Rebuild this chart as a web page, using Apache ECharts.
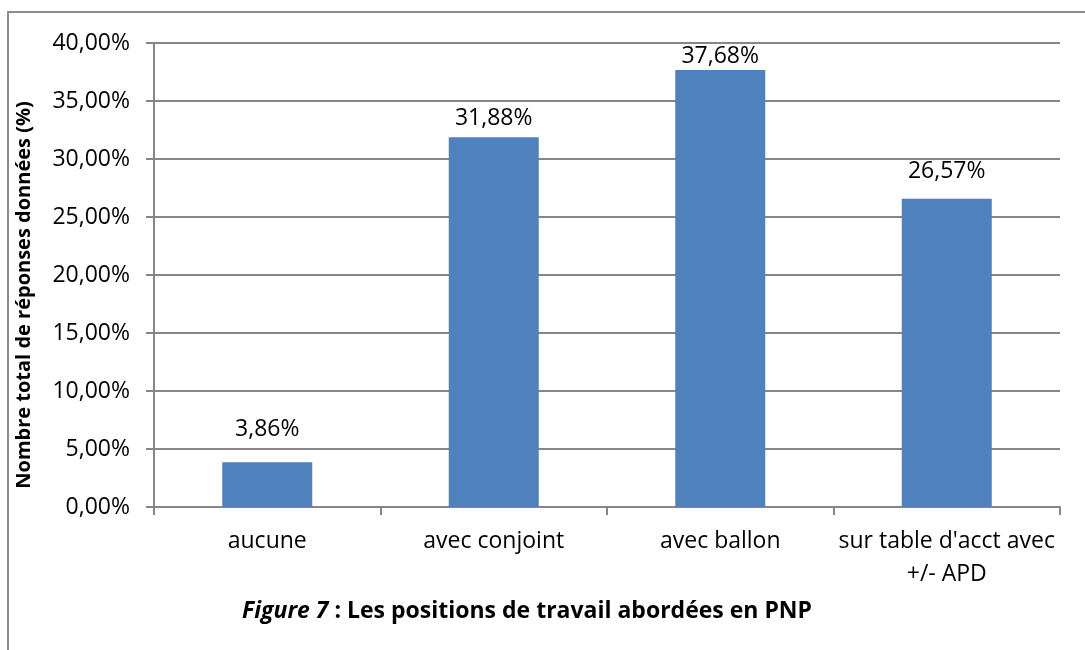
<!DOCTYPE html>
<html>
<head>
<meta charset="utf-8">
<script src="https://cdn.jsdelivr.net/npm/echarts@6/dist/echarts.min.js"></script>
<style>
  html, body { margin: 0; padding: 0; background: #fff; }
  #chart { width: 1085px; height: 650px; }
</style>
</head>
<body>
<div id="chart"></div>
<script>
  // catégories et valeurs (%)
  var categories = ['aucune', 'avec conjoint', 'avec ballon', "sur table d'acct avec\n+/- APD"]
  var values = [3.86, 31.88, 37.68, 26.57]
  var yTicks = [0, 5, 10, 15, 20, 25, 30, 35, 40]

  // écart des étiquettes au-dessus des barres (px), placées à la main dans l'original
  var labelGap = [21, 7, 2, 16]

  var font = 'Open Sans'
  function pct(v) {
    return Number(v).toFixed(2).replace('.', ',') + '%'
  }

  var myChart = echarts.init(document.getElementById('chart'))
  var option = {
    animation: false,
    textStyle: { fontFamily: font },
    grid: {
      left: 154,
      top: 43,
      right: 25,
      bottom: 143
    },
    graphic: [
      {
        type: 'rect',
        shape: { x: 8, y: 12, width: 1100, height: 700 },
        style: { fill: 'none', stroke: '#8c8c8c', lineWidth: 2 },
        silent: true
      },
      {
        type: 'text',
        x: 527,
        y: 611,
        style: {
          text: '{i|Figure 7}{b| : Les positions de travail abordées en PNP}',
          align: 'center',
          verticalAlign: 'middle',
          rich: {
            i: { fontFamily: font, fontSize: 23, fontWeight: 'bold', fontStyle: 'italic', fill: '#000' },
            b: { fontFamily: font, fontSize: 23, fontWeight: 'bold', fill: '#000' }
          }
        }
      }
    ],
    xAxis: {
      type: 'category',
      data: categories,
      axisLine: { lineStyle: { color: '#868686', width: 2 } },
      axisTick: { show: true, alignWithLabel: false, length: 8, lineStyle: { color: '#868686', width: 2 } },
      axisLabel: {
        color: '#000',
        fontSize: 23,
        fontFamily: font,
        margin: 18,
        lineHeight: 33,
        interval: 0
      }
    },
    yAxis: {
      type: 'value',
      min: yTicks[0],
      max: yTicks[yTicks.length - 1],
      interval: 5,
      name: 'Nombre total de réponses données (%)',
      nameLocation: 'middle',
      nameGap: 120,
      nameRotate: 90,
      nameTextStyle: {
        color: '#000',
        fontSize: 20,
        fontWeight: 'bold',
        fontFamily: font,
        padding: [0, 40, 0, 0]
      },
      axisLine: { show: true, lineStyle: { color: '#868686', width: 2 } },
      axisTick: { show: true, length: 8, lineStyle: { color: '#868686', width: 2 } },
      splitLine: { lineStyle: { color: '#868686', width: 2 } },
      axisLabel: {
        color: '#000',
        fontSize: 23,
        fontFamily: font,
        margin: 24,
        formatter: pct
      }
    },
    series: [
      {
        type: 'bar',
        data: values.map(function (v, i) {
          return { value: v, label: { distance: labelGap[i] } }
        }),
        barWidth: 90,
        itemStyle: { color: '#4f81bd' },
        label: {
          show: true,
          position: 'top',
          color: '#000',
          fontSize: 23,
          fontFamily: font,
          formatter: function (p) { return pct(p.value) }
        }
      }
    ]
  }
  myChart.setOption(option)
</script>
</body>
</html>
